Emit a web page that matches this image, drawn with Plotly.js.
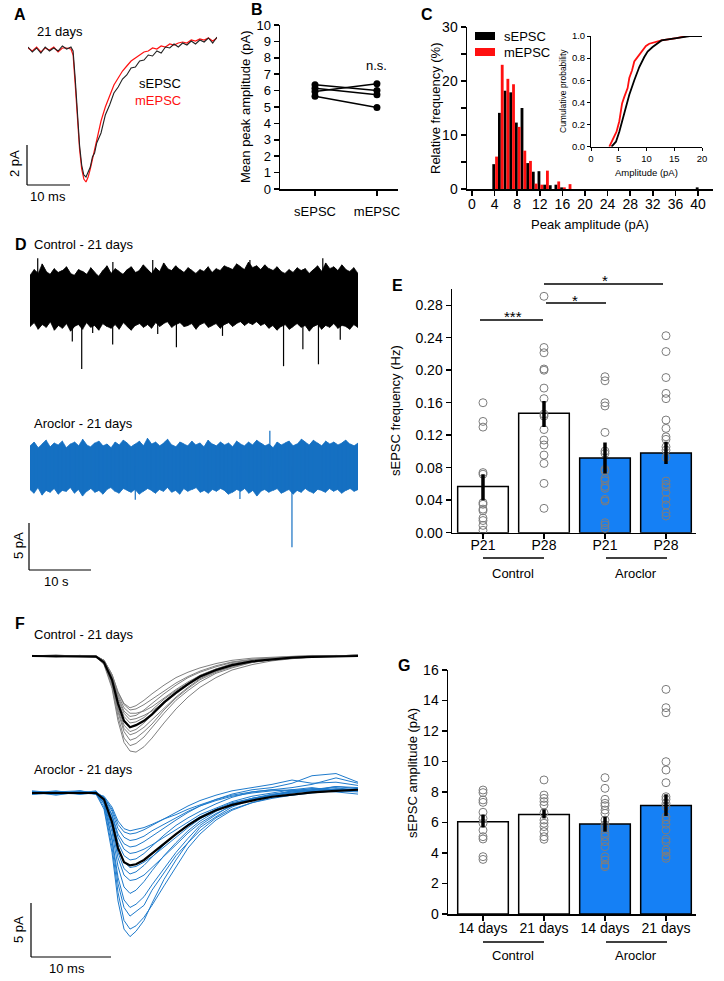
<!DOCTYPE html>
<html><head><meta charset="utf-8">
<script src="https://cdn.plot.ly/plotly-3.0.1.min.js"></script>
<style>html,body{margin:0;padding:0;background:#fff}#chart{width:724px;height:981px}</style>
</head><body><div id="chart"></div>
<script>
// ================= DATA =================
// Panel A: averaged EPSC traces (ms, pA)
const aTime = [0,1,2,3,4,5,6,7,8,9,10,10.5,11,11.5,12,12.5,13,13.5,14,14.5,15,15.5,16,17,18,19,20,21,22,23,24,25,26,27,28,29,30,31,32,33,34,35,36,37,38,39,40,41,42,43,44];
const aSEPSC = [0.1,-0.15,0.05,-0.2,0.1,-0.1,0.05,-0.1,0.15,0,0.1,
  -0.1,-1.5,-3.2,-4.8,-5.8,-6.3,-6.4,-6.1,-5.9,-5.4,-5.2,-4.7,
  -4.2,-3.3,-2.8,-2.2,-1.9,-1.5,-1.3,-0.95,-0.9,-0.6,-0.55,-0.3,-0.35,-0.1,-0.2,0.1,0.05,0.25,0.1,0.3,0.2,0.4,0.25,0.45,0.35,0.55,0.3,0.6];
const aMEPSC = [0.05,-0.1,0.1,-0.15,0.05,-0.05,0.1,-0.15,0.05,0.05,0,
  -0.3,-1.8,-3.5,-5.0,-6.0,-6.5,-6.65,-6.4,-6.0,-5.5,-5.0,-4.5,
  -3.6,-2.9,-2.3,-1.8,-1.45,-1.1,-0.85,-0.6,-0.45,-0.3,-0.15,-0.1,0.05,0,0.15,0.1,0.25,0.2,0.3,0.35,0.3,0.45,0.4,0.5,0.45,0.55,0.4,0.55];

// Panel B: paired mean peak amplitudes (pA)
const bCategories = ['sEPSC','mEPSC'];
const bSEPSC = [6.35,6.15,5.95,5.65];
const bMEPSC = [6.0,5.75,6.42,4.97];

// Panel C: histogram (% of events per 1 pA bin) and cumulative curves
const cBins   = [4,5,6,7,8,9,10,11,12,13,14,15,16,17,40];
const cSEPSC  = [4.6,14.1,18.2,17.9,12.3,15.0,4.8,3.2,3.3,0.8,0.7,0.8,0.3,0,0.3];
const cMEPSC  = [6.0,23.0,20.4,19.4,11.5,7.1,5.2,1.0,0.8,3.4,0,1.4,0.3,0.9,0];
const cdfAmpM  = [3.3,3.9,4.6,5.1,5.6,6.0,6.6,6.9,7.4,7.8,8.4,9.0,9.9,10.5,12.7,15.4,17.2,20];
const cdfProbM = [0,0.06,0.135,0.23,0.39,0.45,0.53,0.62,0.69,0.77,0.81,0.86,0.91,0.93,0.96,0.98,1.0,1.0];
const cdfAmpS  = [3.7,4.5,5.1,6.0,6.9,7.8,8.7,9.6,10.2,11.1,12.0,12.7,15.4,17.8,20];
const cdfProbS = [0,0.045,0.135,0.30,0.47,0.60,0.72,0.81,0.86,0.90,0.93,0.96,0.98,1.0,1.0];

// Panel D: continuous recordings, noise envelope (s, pA) and events
const dTime = [0,0.65,1.3,1.95,2.6,3.25,3.9,4.55,5.2,5.85,
  6.5,7.15,7.8,8.45,9.1,9.75,10.4,11.05,11.7,12.35,
  13,13.65,14.3,14.95,15.6,16.25,16.9,17.55,18.2,18.85,
  19.5,20.15,20.8,21.45,22.1,22.75,23.4,24.05,24.7,25.35,
  26,26.65,27.3,27.95,28.6,29.25,29.9,30.55,31.2,31.85,
  32.5,33.15,33.8,34.45,35.1,35.75,36.4,37.05,37.7,38.35,
  39,39.65,40.3,40.95,41.6,42.25,42.9,43.55,44.2,44.85,
  45.5,46.15,46.8,47.45,48.1,48.75,49.4,50.05,50.7,51.35,
  52,52.65];
const dCtrlHi = [2.4,3.0,2.6,3.6,2.8,2.5,3.1,2.7,2.9,3.3,
  2.6,2.4,3.0,2.8,2.5,3.2,2.7,2.3,2.9,3.4,
  2.6,3.1,2.8,2.5,3.0,3.3,2.7,2.9,3.5,3.0,
  2.6,3.2,2.8,3.7,3.1,2.9,3.4,3.0,2.7,3.2,
  2.9,2.6,3.0,2.8,3.3,2.7,3.1,2.9,3.4,3.2,
  3.0,3.6,3.3,3.0,3.8,3.2,3.4,3.0,3.5,3.1,
  2.9,3.3,2.8,2.6,3.0,2.7,3.2,2.9,3.1,2.6,
  3.0,3.4,2.8,3.7,3.1,3.3,2.9,3.5,3.0,2.8,
  3.2,2.6];
const dCtrlLo = [-3.0,-2.6,-3.3,-2.8,-3.1,-2.5,-3.4,-2.9,-3.2,-2.7,
  -3.5,-3.0,-2.8,-3.3,-2.6,-3.1,-2.9,-3.4,-2.7,-3.0,
  -3.2,-2.8,-3.3,-2.6,-3.0,-3.4,-2.9,-2.7,-3.1,-2.8,
  -3.2,-2.6,-3.0,-2.7,-2.5,-3.1,-2.8,-2.6,-3.0,-2.9,
  -2.7,-3.3,-2.8,-2.6,-3.1,-2.9,-2.7,-3.2,-2.8,-2.6,
  -3.0,-2.7,-2.5,-2.9,-2.6,-2.8,-2.5,-2.9,-2.7,-3.2,
  -2.9,-3.4,-3.0,-2.8,-3.3,-3.0,-2.7,-3.1,-2.9,-3.5,
  -3.0,-2.8,-3.3,-2.9,-3.1,-2.7,-3.2,-2.9,-3.0,-3.3,
  -2.8,-3.1];
const dAroHi = [2.2,2.6,2.0,2.4,2.8,2.1,2.5,2.3,2.7,2.0,
  2.4,2.6,2.2,2.9,2.3,2.1,2.5,2.7,2.2,2.4,
  2.0,2.6,2.3,2.8,2.5,2.1,2.4,2.7,2.2,3.0,
  2.4,2.6,2.2,2.5,2.9,2.3,2.1,2.6,2.4,2.2,
  2.7,2.3,2.5,2.1,2.8,2.4,2.2,2.6,2.3,2.5,
  2.1,2.7,2.4,2.2,2.6,2.3,2.8,2.5,2.2,2.4,
  2.0,2.6,2.3,2.5,2.7,2.2,2.4,2.9,2.6,2.3,
  2.8,2.5,2.2,2.7,2.4,2.6,2.3,2.5,2.8,2.4,
  2.2,2.5];
const dAroLo = [-2.4,-2.8,-2.2,-3.0,-2.5,-2.7,-2.3,-2.9,-2.5,-2.6,
  -2.2,-2.8,-2.4,-3.1,-2.6,-2.3,-2.7,-2.5,-2.9,-2.4,
  -2.2,-2.6,-2.8,-2.3,-2.5,-2.7,-2.4,-2.9,-2.6,-2.3,
  -2.5,-2.8,-2.4,-2.6,-2.2,-2.7,-2.5,-2.9,-2.3,-2.6,
  -2.4,-2.2,-2.7,-2.5,-2.8,-2.4,-2.6,-2.3,-2.5,-2.9,
  -2.7,-2.4,-2.6,-2.3,-2.8,-2.5,-3.1,-2.6,-2.4,-2.7,
  -2.5,-2.3,-2.8,-2.6,-2.4,-2.9,-2.5,-2.7,-2.3,-2.6,
  -2.8,-2.4,-2.5,-2.7,-2.3,-2.6,-2.4,-2.8,-2.5,-2.3,
  -2.6,-2.4];
const dCtrlSpikeT = [1.24,6.79,8.3,10.06,13.27,13.3,19.7,20.5,23.5,30.9,35.3,40.7,43.8,46.3,47.0,49.8];
const dCtrlSpikeA = [4.2,-4.6,-7.5,-3.7,-4.9,3.8,4.0,-3.8,-5.2,-4.0,4.0,-7.2,-5.4,-7.0,4.2,-4.4];
const dAroSpikeT = [16.9,33.7,38.5,42.05];
const dAroSpikeA = [-3.5,-3.4,3.8,-8.5];

// Panel E: sEPSC frequency (Hz)
const eCategories = ['P21','P28','P21','P28'];
const groups = ['Control','Aroclor'];
const eMeans   = [0.057,0.147,0.092,0.098];
const eErrUp   = [0.015,0.015,0.019,0.014];
const eErrDown = [0.017,0.017,0.019,0.0135];
const eCtrlP21 = [0.160,0.137,0.130,0.074,0.072,0.037,0.035,0.029,0.027,0.018,0.015,0.009,0.003];
const eCtrlP28 = [0.291,0.228,0.2215,0.2015,0.200,0.178,0.165,0.146,0.1436,0.127,0.114,0.108,0.0956,0.0853,0.0607,0.030];
const eAroP21  = [0.192,0.187,0.160,0.156,0.1235,0.1005,0.0976,0.078,0.076,0.067,0.064,0.057,0.0546,0.041,0.039,0.0123,0.0094,0.0053];
const eAroP28  = [0.2425,0.223,0.191,0.1715,0.165,0.1387,0.1284,0.118,0.1149,0.1058,0.1017,0.0927,0.0636,0.0595,0.0566,0.0496,0.041,0.034,0.0246,0.0205];

// Panel F: individual and mean sEPSCs (ms, pA)
const fTime = [0,3,6,8,9,10,10.75,11.5,12.25,13,14,15,16.5,18,19.5,21,23,25,27.5,30,32.5,35,38,40.75];
const fCtrlMean = [0,0,0,-0.05,-0.6,-2.2,-4.4,-6.0,-6.6,-6.4,-6.0,-5.4,-4.3,-3.4,-2.6,-1.9,-1.3,-0.85,-0.5,-0.3,-0.15,-0.08,-0.02,0];
const fCtrlTraces = [
  [0.05,-0.05,0,-0.05,-0.8,-3.0,-6.0,-8.0,-8.8,-8.9,-8.4,-7.6,-6.2,-4.9,-3.8,-2.9,-2.0,-1.3,-0.8,-0.45,-0.25,-0.1,-0.05,0.05],
  [0,0.05,-0.05,-0.1,-0.7,-2.8,-5.6,-7.6,-8.3,-8.1,-7.5,-6.6,-5.3,-4.1,-3.2,-2.4,-1.6,-1.1,-0.6,-0.35,-0.2,-0.1,0,0.1],
  [0,-0.1,0.05,0,-0.6,-2.6,-5.2,-7.0,-7.8,-7.6,-7.0,-6.3,-5.0,-3.9,-3.0,-2.2,-1.5,-0.95,-0.6,-0.3,-0.2,0,-0.05,0.05],
  [0.05,0,0,-0.05,-0.6,-2.5,-5.0,-6.7,-7.3,-7.1,-6.6,-5.9,-4.8,-3.8,-2.9,-2.1,-1.4,-1.0,-0.55,-0.3,-0.1,-0.1,0.05,0],
  [0,0.1,-0.05,0,-0.5,-2.3,-4.8,-6.4,-7.0,-6.8,-6.2,-5.5,-4.4,-3.5,-2.6,-1.9,-1.3,-0.8,-0.5,-0.2,-0.15,-0.05,0,0.1],
  [-0.05,0,0.05,-0.05,-0.6,-2.3,-4.5,-6.0,-6.6,-6.4,-6.0,-5.4,-4.4,-3.4,-2.6,-1.9,-1.3,-0.9,-0.5,-0.3,-0.1,-0.05,0.05,0],
  [0,0,0.05,-0.1,-0.5,-2.1,-4.2,-5.6,-6.2,-6.1,-5.7,-5.0,-4.0,-3.2,-2.5,-1.8,-1.2,-0.7,-0.4,-0.25,-0.1,0,0,0.05],
  [0.05,-0.05,0,0,-0.5,-2.0,-4.0,-5.3,-5.9,-5.8,-5.5,-5.1,-4.3,-3.5,-2.7,-2.0,-1.4,-0.9,-0.5,-0.3,-0.15,0,-0.05,0.1],
  [0,0.05,0,-0.05,-0.4,-1.9,-3.8,-5.1,-5.6,-5.5,-5.0,-4.4,-3.5,-2.7,-2.0,-1.5,-1.0,-0.6,-0.35,-0.2,-0.05,-0.05,0,0],
  [0,0,-0.05,0,-0.4,-1.8,-3.6,-4.8,-5.3,-5.3,-5.1,-4.7,-3.9,-3.1,-2.4,-1.8,-1.2,-0.8,-0.45,-0.25,-0.1,0,0.05,0.05],
  [0.05,0,0,-0.05,-0.4,-1.7,-3.4,-4.5,-5.0,-4.9,-4.5,-4.0,-3.2,-2.5,-1.9,-1.4,-0.9,-0.55,-0.3,-0.15,-0.05,0,0,0.1],
  [0,-0.05,0.05,0,-0.4,-1.7,-3.3,-4.4,-4.8,-4.6,-4.1,-3.5,-2.7,-2.0,-1.5,-1.1,-0.7,-0.4,-0.2,-0.1,0,0.05,0,0.05]
];
const fAroMean = [0,0,0,0,-0.6,-2.7,-5.1,-6.4,-6.7,-6.6,-6.2,-5.6,-4.7,-3.8,-3.0,-2.3,-1.6,-1.1,-0.7,-0.35,-0.15,0.05,0.2,0.3];
const fAroTraces = [
  [0.1,-0.2,0.1,-0.1,-1.5,-5.5,-10.0,-12.6,-13.3,-12.8,-11.8,-10.2,-8.0,-6.2,-4.6,-3.5,-2.3,-1.5,-0.9,-0.4,-0.2,0.1,0.2,0.3],
  [-0.1,0.1,0,0,-1.3,-5.0,-9.2,-11.8,-12.6,-12.3,-11.5,-10.4,-8.6,-6.8,-5.1,-3.8,-2.5,-1.6,-0.9,-0.5,-0.2,0,0.2,0.1],
  [0.2,0,-0.1,0.1,-1.0,-4.4,-8.4,-10.6,-11.4,-11.0,-10.4,-9.0,-7.4,-5.8,-4.6,-3.2,-2.2,-1.3,-0.6,-0.2,0.2,0.4,0.3,0.2],
  [0,0.1,0.2,-0.1,-1.0,-4.2,-7.8,-9.9,-10.6,-10.3,-9.6,-8.5,-7.0,-5.5,-4.2,-3.0,-2.0,-1.1,-0.5,-0.2,0.1,0.3,0.6,0.4],
  [-0.1,0,0.1,0,-0.9,-3.6,-6.8,-8.7,-9.3,-9.0,-8.2,-7.2,-5.8,-4.6,-3.5,-2.6,-1.7,-1.0,-0.6,-0.2,0,0.2,0.1,-0.1],
  [0.1,-0.1,0,0.2,-0.8,-3.2,-6.0,-7.6,-8.1,-8.0,-7.6,-6.9,-5.9,-4.8,-3.7,-2.8,-1.9,-1.2,-0.6,-0.3,0,0.3,0.5,0.2],
  [0,0.2,-0.1,0,-0.7,-2.9,-5.5,-7.0,-7.5,-7.3,-6.7,-5.9,-4.8,-3.8,-2.9,-2.2,-1.5,-0.9,-0.5,-0.1,0.1,0.2,0.3,0.4],
  [0.1,0,0.1,-0.1,-0.6,-2.6,-5.0,-6.4,-6.9,-6.8,-6.4,-5.9,-5.0,-4.1,-3.2,-2.4,-1.6,-1.0,-0.5,-0.2,0.2,0.1,0.4,0.3],
  [-0.1,0.1,0,0,-0.6,-2.4,-4.6,-5.8,-6.2,-6.1,-5.6,-4.9,-3.9,-3.0,-2.3,-1.7,-1.0,-0.4,0.1,0.3,0.5,0.8,1.4,0.9],
  [0,-0.1,0.2,0,-0.5,-2.1,-4.1,-5.2,-5.6,-5.5,-5.2,-4.8,-4.1,-3.4,-2.7,-2.0,-1.4,-0.8,-0.3,0,0.3,0.2,0.6,0.5],
  [0.1,0,0,0.1,-0.5,-2.0,-3.8,-4.7,-5.0,-4.9,-4.5,-4.0,-3.2,-2.5,-1.8,-1.2,-0.6,-0.1,0.3,0.5,0.9,1.6,1.8,1.0],
  [0,0.1,-0.1,0,-0.4,-1.7,-3.3,-4.1,-4.4,-4.3,-4.0,-3.5,-2.9,-2.3,-1.7,-1.2,-0.7,-0.3,0,0.2,0.3,0.5,0.2,0.3],
  [-0.1,0,0.1,0.1,-0.4,-1.5,-2.9,-3.6,-3.8,-3.7,-3.4,-3.0,-2.4,-1.8,-1.2,-0.7,-0.2,0.2,0.5,0.8,1.2,0.9,1.0,0.7],
  [0.1,0,0,-0.1,-0.3,-1.3,-2.6,-3.3,-3.5,-3.4,-3.2,-2.9,-2.4,-2.0,-1.5,-1.1,-0.6,-0.2,0.1,0.3,0.2,0.4,0.3,0.2]
];

// Panel G: sEPSC amplitude (pA)
const gCategories = ['14 days','21 days','14 days','21 days'];
const gMeans   = [6.05,6.52,5.9,7.12];
const gErrUp   = [0.45,0.34,0.48,0.73];
const gErrDown = [0.37,0.25,0.5,0.69];
const gCtrl14 = [8.13,7.96,7.48,7.32,6.67,6.27,5.95,5.5,5.07,4.92,3.76,3.58];
const gCtrl21 = [8.79,7.8,7.58,7.37,7.15,6.64,6.16,5.95,5.73,5.4,5.07,4.9];
const gAro14  = [8.94,8.24,7.52,7.26,7.1,6.82,6.6,6.16,5.84,5.62,5.29,5.07,4.74,4.42,3.76,3.54,3.21,3.1];
const gAro21  = [14.73,13.53,13.2,9.99,9.44,8.61,7.69,7.52,7.26,7.04,6.38,6.16,5.88,5.51,4.9,4.74,4.2,4.04,3.8,3.65];

// ================= STYLE / LAYOUT HELPERS =================
const FONT = 'Liberation Sans, Arial, Helvetica, sans-serif';
const W = 724, H = 981;
const RED = '#ff1010', BLUE_TRACE = '#1570c2', BLUE_F = '#1f7bcc', BLUE_BAR = '#1580f5';
const fx = p => p / W, fy = p => 1 - p / H;
const xdom = (a, b) => [a / W, b / W];
const ydom = (t, b) => [1 - b / H, 1 - t / H];

function hid(dom, range, anchor) {
  return {domain: dom, range: range, anchor: anchor, visible: false, fixedrange: true, showgrid: false, zeroline: false};
}
function vis(dom, range, anchor, extra) {
  return Object.assign({domain: dom, range: range, anchor: anchor, showline: true, linecolor: '#000', linewidth: 1.5,
    ticks: 'outside', ticklen: 5, tickwidth: 1.5, tickcolor: '#000', showgrid: false, zeroline: false, fixedrange: true,
    tickfont: {family: FONT, size: 13, color: '#000'}}, extra || {});
}
function T(text, x, y, o) {
  return Object.assign({text: text, x: fx(x), y: fy(y), xref: 'paper', yref: 'paper', showarrow: false,
    xanchor: 'center', yanchor: 'middle', font: {family: FONT, size: 13, color: '#000'}}, o || {});
}
function L(x0, y0, x1, y1, w, c) {
  return {type: 'line', xref: 'paper', yref: 'paper', x0: fx(x0), y0: fy(y0), x1: fx(x1), y1: fy(y1), line: {color: c || '#000', width: w || 1.5}};
}
function R(x0, y0, x1, y1, c) {
  return {type: 'rect', xref: 'paper', yref: 'paper', x0: fx(x0), y0: fy(y0), x1: fx(x1), y1: fy(y1), fillcolor: c, line: {width: 0}};
}

const traces = [];
// ---- A ----
traces.push({type: 'scatter', mode: 'lines', x: aTime, y: aMEPSC, xaxis: 'x', yaxis: 'y', line: {color: RED, width: 1.2}, hoverinfo: 'skip'});
traces.push({type: 'scatter', mode: 'lines', x: aTime, y: aSEPSC, xaxis: 'x', yaxis: 'y', line: {color: '#222', width: 1.1}, hoverinfo: 'skip'});
// ---- B ----
for (let i = 0; i < bSEPSC.length; i++) {
  traces.push({type: 'scatter', mode: 'lines+markers', x: [0, 1], y: [bSEPSC[i], bMEPSC[i]], xaxis: 'x2', yaxis: 'y2',
    line: {color: '#000', width: 1.5}, marker: {color: '#000', size: 7}, cliponaxis: false});
}
// ---- C ----
traces.push({type: 'bar', x: cBins, y: cSEPSC, width: 0.5, offset: -0.4, marker: {color: '#000', line: {width: 0}}, xaxis: 'x3', yaxis: 'y3'});
traces.push({type: 'bar', x: cBins, y: cMEPSC, width: 0.5, offset: 0.1, marker: {color: RED, line: {width: 0}}, xaxis: 'x3', yaxis: 'y3'});
traces.push({type: 'scatter', mode: 'lines', x: cdfAmpM, y: cdfProbM, xaxis: 'x4', yaxis: 'y4', line: {color: RED, width: 1.8}, cliponaxis: false});
traces.push({type: 'scatter', mode: 'lines', x: cdfAmpS, y: cdfProbS, xaxis: 'x4', yaxis: 'y4', line: {color: '#000', width: 1.8}, cliponaxis: false});
// ---- D ----
function band(t, hi, lo, color, xa, ya) {
  return {type: 'scatter', mode: 'lines', x: t.concat(t.slice().reverse()), y: hi.concat(lo.slice().reverse()),
    fill: 'toself', fillcolor: color, line: {color: color, width: 0.6}, xaxis: xa, yaxis: ya, hoverinfo: 'skip'};
}
function zigzag(t, hi, lo, color, xa, ya) {
  const xs = [], ys = [];
  for (let i = 0; i < t.length; i++) { xs.push(t[i], t[i]); ys.push(i % 2 ? lo[i] : hi[i], i % 2 ? hi[i] : lo[i]); }
  return {type: 'scatter', mode: 'lines', x: xs, y: ys, line: {color: color, width: 0.8}, xaxis: xa, yaxis: ya, hoverinfo: 'skip'};
}
function spikes(t, a, color, xa, ya) {
  const xs = [], ys = [];
  for (let i = 0; i < t.length; i++) { xs.push(t[i], t[i], null); ys.push(0, a[i], null); }
  return {type: 'scatter', mode: 'lines', x: xs, y: ys, line: {color: color, width: 1.2}, xaxis: xa, yaxis: ya, hoverinfo: 'skip'};
}
traces.push(band(dTime, dCtrlHi, dCtrlLo, '#000', 'x5', 'y5'));
traces.push(zigzag(dTime, dCtrlHi, dCtrlLo, '#000', 'x5', 'y5'));
traces.push(spikes(dCtrlSpikeT, dCtrlSpikeA, '#000', 'x5', 'y5'));
traces.push(band(dTime, dAroHi, dAroLo, BLUE_TRACE, 'x6', 'y6'));
traces.push(zigzag(dTime, dAroHi, dAroLo, BLUE_TRACE, 'x6', 'y6'));
traces.push(spikes(dAroSpikeT, dAroSpikeA, BLUE_TRACE, 'x6', 'y6'));
// ---- E & G (bar + dots + error) ----
const barColors = ['#ffffff', '#ffffff', BLUE_BAR, BLUE_BAR];
function barPanel(means, up, down, dotGroups, xa, ya) {
  traces.push({type: 'bar', x: [0, 1, 2, 3], y: means, width: 0.83, marker: {color: barColors, line: {color: '#000', width: 1.5}}, xaxis: xa, yaxis: ya});
  const xs = [], ys = [];
  dotGroups.forEach((g, k) => g.forEach(v => { xs.push(k); ys.push(v); }));
  traces.push({type: 'scatter', mode: 'markers', x: xs, y: ys, xaxis: xa, yaxis: ya, cliponaxis: false,
    marker: {symbol: 'circle-open', size: 8, color: '#7d7d7d', line: {width: 1}}});
  traces.push({type: 'scatter', mode: 'markers', x: [0, 1, 2, 3], y: means, xaxis: xa, yaxis: ya,
    marker: {size: 1, color: 'rgba(0,0,0,0)'},
    error_y: {type: 'data', symmetric: false, array: up, arrayminus: down, color: '#000', thickness: 3.5, width: 0}});
}
barPanel(eMeans, eErrUp, eErrDown, [eCtrlP21, eCtrlP28, eAroP21, eAroP28], 'x7', 'y7');
barPanel(gMeans, gErrUp, gErrDown, [gCtrl14, gCtrl21, gAro14, gAro21], 'x10', 'y10');
// ---- F ----
fCtrlTraces.forEach(tr => traces.push({type: 'scatter', mode: 'lines', x: fTime, y: tr, xaxis: 'x8', yaxis: 'y8', line: {color: '#808080', width: 1}, hoverinfo: 'skip'}));
traces.push({type: 'scatter', mode: 'lines', x: fTime, y: fCtrlMean, xaxis: 'x8', yaxis: 'y8', line: {color: '#000', width: 2.2}});
fAroTraces.forEach(tr => traces.push({type: 'scatter', mode: 'lines', x: fTime, y: tr, xaxis: 'x9', yaxis: 'y9', line: {color: BLUE_F, width: 1}, hoverinfo: 'skip'}));
traces.push({type: 'scatter', mode: 'lines', x: fTime, y: fAroMean, xaxis: 'x9', yaxis: 'y9', line: {color: '#000', width: 2.2}});

// ================= LAYOUT =================
const bold = () => ({family: FONT, size: 16, color: '#000'});
const annotations = [
  // A
  T('<b>A</b>', 20, 15, {font: bold()}),
  T('21 days', 60, 31),
  T('sEPSC', 183, 84, {xanchor: 'right'}),
  T('mEPSC', 183, 100, {xanchor: 'right', font: {family: FONT, size: 13, color: RED}}),
  T('2 pA', 15, 164, {textangle: -90}),
  T('10 ms', 48, 197),
  // B
  T('<b>B</b>', 257, 10, {font: bold()}),
  T('Mean peak amplitude (pA)', 246, 107, {textangle: -90}),
  T('n.s.', 376, 65),
  // C
  T('<b>C</b>', 427, 14, {font: bold()}),
  T('Relative frequency (%)', 435, 108, {textangle: -90}),
  T('Peak amplitude (pA)', 590, 225),
  T('sEPSC', 502, 36, {xanchor: 'left'}),
  T('mEPSC', 502, 52, {xanchor: 'left'}),
  T('Cumulative probability', 563, 91, {textangle: -90, font: {family: FONT, size: 8.5, color: '#000'}}),
  T('Amplitude (pA)', 646, 172, {font: {family: FONT, size: 9.5, color: '#000'}}),
  // D
  T('<b>D</b>', 21, 244, {font: bold()}),
  T('Control - 21 days', 32, 244, {xanchor: 'left'}),
  T('Aroclor - 21 days', 32, 423, {xanchor: 'left'}),
  T('5 pA', 18, 546, {textangle: -90}),
  T('10 s', 57, 581),
  // E
  T('<b>E</b>', 397, 286, {font: bold()}),
  T('sEPSC frequency (Hz)', 395, 411, {textangle: -90}),
  T('***', 513, 317, {font: {family: FONT, size: 15, color: '#000'}}),
  T('*', 575, 300, {font: {family: FONT, size: 15, color: '#000'}}),
  T('*', 605, 281, {font: {family: FONT, size: 15, color: '#000'}}),
  T(groups[0], 513, 573), T(groups[1], 636, 573),
  // F
  T('<b>F</b>', 20, 623, {font: bold()}),
  T('Control - 21 days', 32, 634, {xanchor: 'left'}),
  T('Aroclor - 21 days', 32, 769, {xanchor: 'left'}),
  T('5 pA', 18, 930, {textangle: -90}),
  T('10 ms', 67, 968),
  // G
  T('<b>G</b>', 404, 665, {font: bold()}),
  T('sEPSC amplitude (pA)', 412, 773, {textangle: -90}),
  T(groups[0], 513, 955), T(groups[1], 636, 955)
];
const shapes = [
  // A scale bars
  L(27, 145, 27, 185, 1.2), L(27, 185, 70, 185, 1.2),
  // C legend swatches
  R(475, 32, 495, 40, '#000'), R(475, 48, 495, 56, RED),
  // D scale bars
  L(29, 523, 29, 570, 1.2), L(29, 570, 91, 570, 1.2),
  // E significance and groups
  L(480, 320, 543, 320), L(546, 303, 606, 303), L(544, 284, 663, 284),
  L(483, 558, 544, 558), L(606, 558, 667, 558),
  // F scale bars
  L(31, 903, 31, 957, 1.2), L(31, 957, 111, 957, 1.2),
  // G groups
  L(483, 942, 544, 942), L(606, 942, 667, 942)
];

const layout = {
  width: W, height: H, margin: {l: 0, r: 0, t: 0, b: 0}, showlegend: false,
  paper_bgcolor: '#fff', plot_bgcolor: 'rgba(0,0,0,0)', barmode: 'overlay',
  font: {family: FONT, color: '#000'},
  annotations: annotations, shapes: shapes,
  // A
  xaxis: hid(xdom(28, 217), [0, 44], 'y'),
  yaxis: hid(ydom(30, 190), [-(190 - 49) / 20, (49 - 30) / 20], 'x'),
  // B
  xaxis2: vis(xdom(280, 398), [-0.565, 1.34], 'y2', {tickvals: [0, 1], ticktext: bCategories, ticklabelstandoff: 5}),
  yaxis2: vis(ydom(25, 189), [0, 10], 'x2', {dtick: 1, tick0: 0}),
  // C main
  xaxis3: vis(xdom(467, 713), [-0.88, 42.65], 'y3', {tickvals: [0,4,8,12,16,20,24,28,32,36,40], ticklabelstandoff: -3, tickfont: {family: FONT, size: 14, color: '#000'}}),
  yaxis3: vis(ydom(27, 189), [0, 30], 'x3', {tickvals: [0, 10, 20, 30], tickfont: {family: FONT, size: 14, color: '#000'},
    minor: {tickvals: [5, 15, 25], ticks: 'outside', ticklen: 5, tickwidth: 1.5, tickcolor: '#000'}}),
  // C inset
  xaxis4: vis(xdom(591, 702), [0, 20], 'y4', {dtick: 5, ticklen: 3, tickwidth: 1, linewidth: 1, tickfont: {family: FONT, size: 9.5, color: '#000'}}),
  yaxis4: vis(ydom(36, 146.7), [0, 1], 'x4', {dtick: 0.2, tickformat: '.1f', ticklen: 3, tickwidth: 1, linewidth: 1, tickfont: {family: FONT, size: 9.5, color: '#000'}}),
  // D
  xaxis5: hid(xdom(30, 358), [0, 52.65], 'y5'),
  yaxis5: hid(ydom(250, 380), [-(380 - 298) / 9.47, (298 - 250) / 9.47], 'x5'),
  xaxis6: hid(xdom(30, 358), [0, 52.65], 'y6'),
  yaxis6: hid(ydom(420, 560), [-(560 - 466.7) / 9.47, (466.7 - 420) / 9.47], 'x6'),
  // E
  xaxis7: vis(xdom(452, 696), [-0.508, 3.492], 'y7', {tickvals: [0, 1, 2, 3], ticktext: eCategories, ticklabelstandoff: -6, tickfont: {family: FONT, size: 14, color: '#000'}}),
  yaxis7: vis(ydom(289, 532.7), [0, 0.3], 'x7', {tickvals: [0,0.04,0.08,0.12,0.16,0.2,0.24,0.28], tickformat: '.2f', tickfont: {family: FONT, size: 14, color: '#000'}}),
  // F
  xaxis8: hid(xdom(32, 358), [0, 40.75], 'y8'),
  yaxis8: hid(ydom(640, 760), [-(760 - 656) / 10.8, (656 - 640) / 10.8], 'x8'),
  xaxis9: hid(xdom(32, 358), [0, 40.75], 'y9'),
  yaxis9: hid(ydom(765, 945), [-(945 - 793) / 10.8, (793 - 765) / 10.8], 'x9'),
  // G
  xaxis10: vis(xdom(448, 696), [-0.574, 3.492], 'y10', {tickvals: [0, 1, 2, 3], ticktext: gCategories, ticklabelstandoff: -4, tickfont: {family: FONT, size: 14, color: '#000'}}),
  yaxis10: vis(ydom(670, 914), [0, 16], 'x10', {dtick: 2, tick0: 0, tickfont: {family: FONT, size: 14, color: '#000'}})
};

Plotly.newPlot('chart', traces, layout, {staticPlot: true, displayModeBar: false});
</script></body></html>
